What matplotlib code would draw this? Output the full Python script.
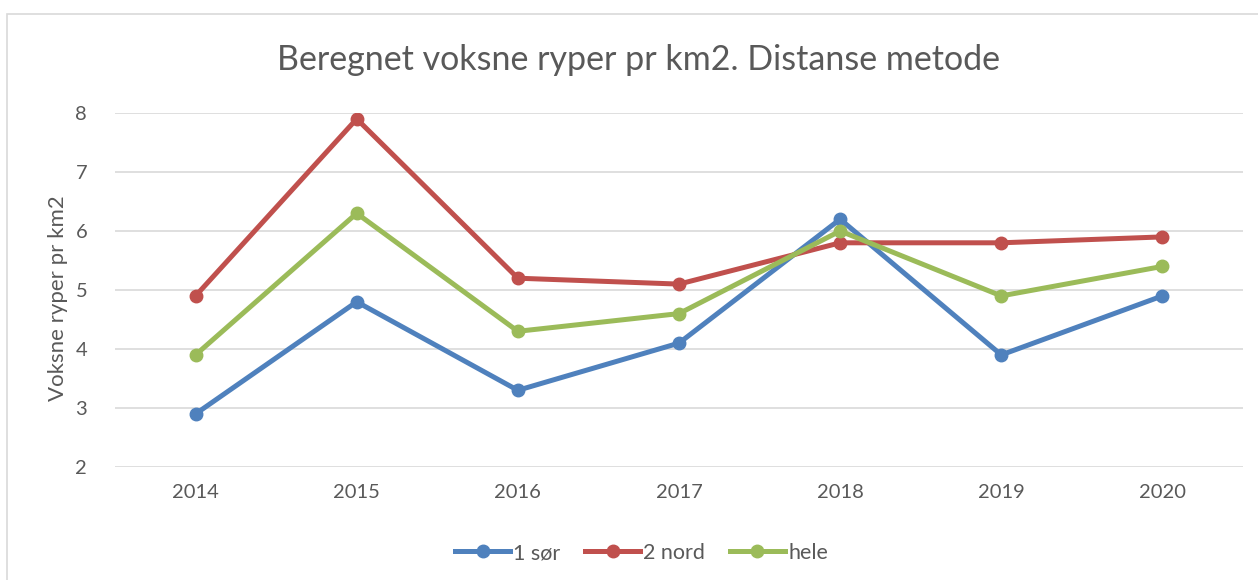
import matplotlib.pyplot as plt
from matplotlib.patches import Rectangle

# data
years = ["2014", "2015", "2016", "2017", "2018", "2019", "2020"]
sor = [2.9, 4.8, 3.3, 4.1, 6.2, 3.9, 4.9]
nord = [4.9, 7.9, 5.2, 5.1, 5.8, 5.8, 5.9]
hele = [3.9, 6.3, 4.3, 4.6, 6.0, 4.9, 5.4]

plt.rcParams['font.family'] = ['Lato', 'DejaVu Sans']
txt = '#595959'

fig = plt.figure(figsize=(12.58, 5.80), dpi=100)
fig.patches.append(Rectangle((7 / 1258, -0.01), 1.0, (580 - 14) / 580 + 0.01,
                             transform=fig.transFigure, fill=False,
                             edgecolor='#d9d9d9', linewidth=1.2))

ax = fig.add_axes([115 / 1258, 113 / 580, 1128 / 1258, 354 / 580])
x = range(len(years))
ax.plot(x, sor, color='#4F81BD', lw=3.6, marker='o', ms=9, label='1 sør')
ax.plot(x, nord, color='#C0504D', lw=3.6, marker='o', ms=9, label='2 nord')
ax.plot(x, hele, color='#9BBB59', lw=3.6, marker='o', ms=9, label='hele')

ax.set_xlim(-0.5, len(years) - 0.5)
ax.set_ylim(2, 8)
ax.set_xticks(list(x))
ax.set_xticklabels(years)
ax.set_yticks(range(2, 9))
ax.tick_params(length=0, labelsize=14.5, colors=txt, pad=12)
ax.tick_params(axis='y', pad=20)
ax.grid(axis='y', color='#d9d9d9', lw=1.2)
ax.set_axisbelow(True)
for s in ax.spines.values():
    s.set_visible(False)

fig.text(58 / 1258, 282 / 580, 'Voksne ryper pr km2', rotation=90,
         ha='center', va='center', fontsize=16, color=txt)
fig.text(0.5076, 520 / 580, 'Beregnet voksne ryper pr km2. Distanse metode',
         ha='center', va='center', fontsize=24.5, color=txt)

fig.legend(loc='center', bbox_to_anchor=(0.51, 27 / 580), ncol=3, frameon=False,
           fontsize=15.5, labelcolor=txt, handlelength=2.55, handletextpad=0.15,
           columnspacing=1.15)

fig.savefig('out.png', dpi=100)
